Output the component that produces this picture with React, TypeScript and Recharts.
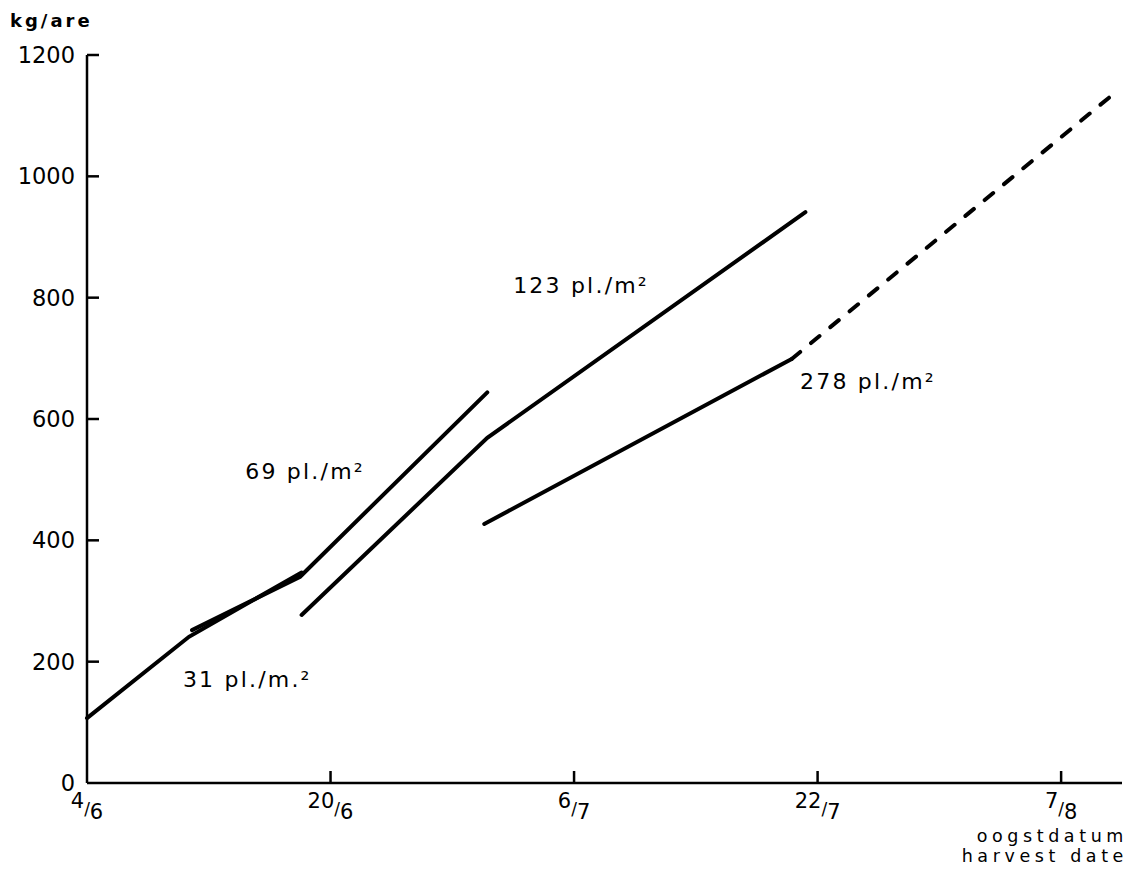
import { LineChart, Line, XAxis, YAxis, ReferenceDot } from "recharts";

const FONT = "'DejaVu Sans', sans-serif";

// x = days after 4 June
const dayTicks = [0, 16, 32, 48, 64];
const dayNumerators = ["4", "20", "6", "22", "7"];
const dayDenominators = ["6", "6", "7", "7", "8"];
const kgTicks = [0, 200, 400, 600, 800, 1000, 1200];

const days31 = [0, 6.7, 14.1];
const kg31 = [107, 241, 347];
const days69 = [6.9, 14.0, 26.3];
const kg69 = [252, 340, 644];
const days123 = [14.1, 26.3, 47.2];
const kg123 = [277, 569, 941];
const days278 = [26.1, 46.3];
const kg278 = [427, 699];
const days278Est = [46.3, 67.5];
const kg278Est = [699, 1137];

const labelTexts = ["31 pl./m.²", "69 pl./m²", "123 pl./m²", "278 pl./m²"];
const labelDays = [6.3, 10.4, 28.0, 46.85];
const labelKg = [158, 501, 808, 649];

const toPoints = (days: number[], kg: number[]) =>
    days.map((day, i) => ({ day, kg: kg[i] }));

const YTick = (props: any) => {
    const { x, y, payload } = props;
    return (
        <g>
            {payload.value !== 0 && (
                <line x1={x + 12} x2={x + 24} y1={y} y2={y} stroke="#000" strokeWidth={2.5} />
            )}
            <text x={x} y={y + 8} textAnchor="end" fontSize={22.5} fontFamily={FONT} fill="#000">
                {payload.value}
            </text>
        </g>
    );
};

const XTick = (props: any) => {
    const { x, y, index } = props;
    return (
        <g>
            {index !== 0 && (
                <line x1={x} x2={x} y1={y} y2={y - 12} stroke="#000" strokeWidth={2.5} />
            )}
            <text x={x} y={y} textAnchor="middle" fontSize={21} fontFamily={FONT} fill="#000">
                <tspan dy={25}>{dayNumerators[index]}</tspan>
                <tspan dy={7} fontSize={17}>/</tspan>
                <tspan dy={4}>{dayDenominators[index]}</tspan>
            </text>
        </g>
    );
};

const KgTitle = (props: any) => {
    const { viewBox } = props;
    return (
        <text x={10} y={viewBox.y - 28} fontSize={18} fontWeight="bold" letterSpacing={3} fontFamily={FONT} fill="#000">
            kg/are
        </text>
    );
};

const DateTitle = (props: any) => {
    const { viewBox } = props;
    const right = viewBox.x + viewBox.width + 6;
    const common = { textAnchor: "end" as const, fontSize: 17.5, letterSpacing: 4.6, fontFamily: FONT, fill: "#000" };
    return (
        <g>
            <text x={right} y={viewBox.y + 59} {...common}>oogstdatum</text>
            <text x={right} y={viewBox.y + 79} {...common}>harvest date</text>
        </g>
    );
};

const seriesLabel = (text: string) => (props: any) => {
    const { viewBox } = props;
    return (
        <text x={viewBox.x} y={viewBox.y} fontSize={22} letterSpacing={2.2} fontFamily={FONT} fill="#000">
            {text}
        </text>
    );
};

const lineStyle = {
    type: "linear" as const,
    dataKey: "kg",
    stroke: "#000",
    strokeWidth: 4,
    strokeLinecap: "round" as const,
    dot: false,
    activeDot: false,
    isAnimationActive: false,
};

export default function App() {
    return (
        <div style={{ position: "absolute", left: 0, top: 0, width: 1142, height: 876, background: "#fff" }}>
            <LineChart width={1142} height={876} margin={{ top: 55, right: 20, left: 0, bottom: 63 }}>
                <XAxis
                    dataKey="day"
                    type="number"
                    domain={[0, 68]}
                    ticks={dayTicks}
                    interval={0}
                    height={30}
                    tickSize={0}
                    tickMargin={0}
                    tickLine={false}
                    axisLine={{ stroke: "#000", strokeWidth: 2.5 }}
                    tick={<XTick />}
                    label={<DateTitle />}
                />
                <YAxis
                    type="number"
                    domain={[0, 1200]}
                    ticks={kgTicks}
                    interval={0}
                    width={87}
                    tickSize={0}
                    tickMargin={12}
                    tickLine={false}
                    axisLine={{ stroke: "#000", strokeWidth: 2.5 }}
                    tick={<YTick />}
                    label={<KgTitle />}
                />
                <Line {...lineStyle} data={toPoints(days31, kg31)} />
                <Line {...lineStyle} data={toPoints(days69, kg69)} />
                <Line {...lineStyle} data={toPoints(days123, kg123)} />
                <Line {...lineStyle} data={toPoints(days278, kg278)} />
                <Line {...lineStyle} data={toPoints(days278Est, kg278Est)} strokeDasharray="11 14" />
                {labelTexts.map((t, i) => (
                    <ReferenceDot
                        key={t}
                        x={labelDays[i]}
                        y={labelKg[i]}
                        r={0}
                        fill="none"
                        stroke="none"
                        label={{ content: seriesLabel(t) }}
                    />
                ))}
            </LineChart>
        </div>
    );
}
